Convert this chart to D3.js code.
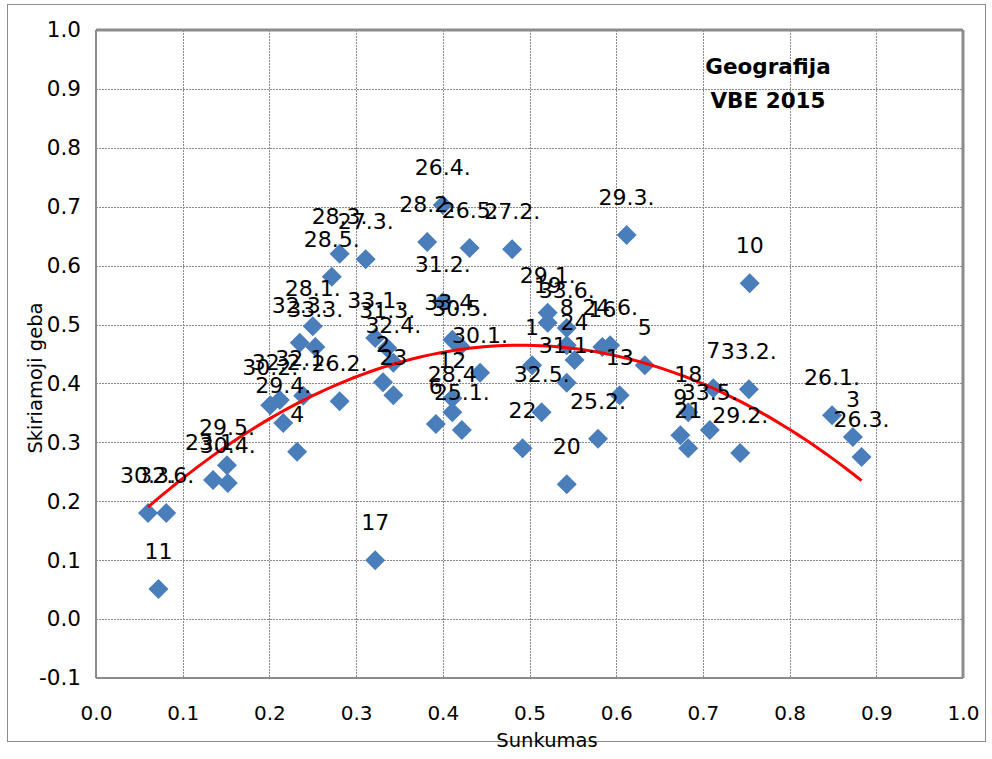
<!DOCTYPE html>
<html>
<head>
<meta charset="utf-8">
<script src="https://cdn.jsdelivr.net/npm/d3@7"></script>
<style>
  html, body { margin: 0; padding: 0; background: #fff; }
  svg { display: block; }
</style>
</head>
<body>
<svg id="chart" width="992" height="759"></svg>
<script>
// ---- data ----
const pointLabels = ["30.3.","32.6.","11","23.1.","29.5.","30.4.","30.2.","32.2.","29.4.","4",
  "32.1.","26.2.","32.3.","33.3.","28.1.","28.5.","28.3.","27.3.","33.1.","31.3.",
  "32.4.","2","23","17","28.2.","26.4.","26.5.","31.2.","33.4.","30.5.",
  "30.1.","12","28.4","6","25.1.","27.2.","29.1.","19","33.6.","8",
  "24","16","24.6.","5","1","31.1.","13","32.5.","25.2.","22",
  "20","29.3.","10","7","33.2.","18","9","21","33.5.","29.2.",
  "26.1.","3","26.3."];
const sunkumas = [0.060,0.081,0.072,0.135,0.151,0.152,0.201,0.212,0.216,0.232,
  0.239,0.281,0.235,0.253,0.250,0.272,0.281,0.311,0.322,0.336,
  0.343,0.331,0.343,0.322,0.382,0.400,0.431,0.400,0.411,0.420,
  0.443,0.411,0.411,0.392,0.422,0.480,0.521,0.521,0.543,0.543,
  0.552,0.584,0.593,0.633,0.503,0.543,0.604,0.514,0.579,0.492,
  0.543,0.612,0.754,0.712,0.753,0.683,0.674,0.683,0.708,0.743,
  0.849,0.873,0.883];
const skiriamojiGeba = [0.180,0.180,0.051,0.236,0.261,0.231,0.363,0.372,0.333,0.284,
  0.379,0.370,0.469,0.462,0.497,0.581,0.620,0.611,0.477,0.460,
  0.435,0.402,0.380,0.100,0.640,0.703,0.630,0.538,0.474,0.463,
  0.418,0.375,0.351,0.331,0.321,0.628,0.520,0.503,0.494,0.465,
  0.440,0.462,0.465,0.431,0.431,0.401,0.380,0.351,0.306,0.290,
  0.229,0.652,0.570,0.392,0.390,0.351,0.312,0.290,0.321,0.282,
  0.346,0.309,0.275];
const xTicks = [0.0,0.1,0.2,0.3,0.4,0.5,0.6,0.7,0.8,0.9,1.0];
const yTicks = [-0.1,0.0,0.1,0.2,0.3,0.4,0.5,0.6,0.7,0.8,0.9,1.0];
// polynomial (order 2) trendline coefficients: a + b*x + c*x^2
const trendCoef = [0.108, 1.457, -1.487];
const titleLines = ["Geografija", "VBE 2015"];

// ---- chart ----
const svg = d3.select("#chart");
const x = d3.scaleLinear().domain([0, 1]).range([96, 963]);
const y = d3.scaleLinear().domain([-0.1, 1]).range([678, 30]);
const fmt = d => d.toFixed(1);

// outer frame
svg.append("rect").attr("x", 7.5).attr("y", 4.5).attr("width", 978).attr("height", 737)
  .attr("fill", "#fff").attr("stroke", "#8c8c8c").attr("stroke-width", 1);

// gridlines
const grid = svg.append("g");
grid.selectAll("line.h").data(yTicks.filter(d => d > -0.1 && d < 1)).join("line")
  .attr("x1", x(0)).attr("x2", x(1)).attr("y1", d => Math.round(y(d)) + 0.5).attr("y2", d => Math.round(y(d)) + 0.5)
  .attr("stroke", "#8a8a8a").attr("stroke-width", 1).attr("stroke-dasharray", "2,1");
grid.selectAll("line.v").data(xTicks.filter(d => d > 0 && d < 1)).join("line")
  .attr("y1", y(1)).attr("y2", y(-0.1)).attr("x1", d => Math.round(x(d)) + 0.5).attr("x2", d => Math.round(x(d)) + 0.5)
  .attr("stroke", "#8a8a8a").attr("stroke-width", 1).attr("stroke-dasharray", "2,1");

// plot border
svg.append("line").attr("x1", x(0)).attr("x2", x(1)).attr("y1", y(1)).attr("y2", y(1))
  .attr("stroke", "#8c8c8c").attr("stroke-width", 3);
svg.append("line").attr("x1", x(1)).attr("x2", x(1)).attr("y1", y(1)).attr("y2", y(-0.1))
  .attr("stroke", "#8c8c8c").attr("stroke-width", 3);
svg.append("line").attr("x1", x(0)).attr("x2", x(0)).attr("y1", y(1)).attr("y2", y(-0.1))
  .attr("stroke", "#8c8c8c").attr("stroke-width", 2);
svg.append("line").attr("x1", x(0)).attr("x2", x(1)).attr("y1", y(-0.1)).attr("y2", y(-0.1))
  .attr("stroke", "#8c8c8c").attr("stroke-width", 2);

// axes tick labels
const yAxis = d3.axisLeft(y).tickValues(yTicks).tickFormat(fmt).tickSize(0).tickPadding(15);
const gy = svg.append("g").attr("transform", `translate(${x(0)},0)`).call(yAxis);
gy.select(".domain").remove();
gy.selectAll("text").attr("font-family", "DejaVu Sans").attr("font-size", 21.5).attr("fill", "#000");

const xAxis = d3.axisBottom(x).tickValues(xTicks).tickFormat(fmt).tickSize(0).tickPadding(28);
const gx = svg.append("g").attr("transform", `translate(0,${y(-0.1)})`).call(xAxis);
gx.select(".domain").remove();
gx.selectAll("text").attr("font-family", "DejaVu Sans").attr("font-size", 20).attr("fill", "#000");

// axis titles
svg.append("text").attr("x", 547).attr("y", 747).attr("text-anchor", "middle")
  .attr("font-family", "DejaVu Sans").attr("font-size", 19.5).text("Sunkumas");
svg.append("text").attr("transform", "translate(42,378) rotate(-90)").attr("text-anchor", "middle")
  .attr("font-family", "DejaVu Sans").attr("font-size", 19.5).text("Skiriamoji geba");

// points
const data = sunkumas.map((v, i) => ({ x: v, y: skiriamojiGeba[i], label: pointLabels[i] }));
const diamond = d3.symbol().type(d3.symbolSquare).size(200);
svg.append("g").selectAll("path").data(data).join("path")
  .attr("d", diamond)
  .attr("transform", d => `translate(${x(d.x)},${y(d.y)}) rotate(45)`)
  .attr("fill", "#4A7EBB");

// trendline
const xs = d3.extent(sunkumas);
const trendPts = d3.range(0, 101).map(i => {
  const xv = xs[0] + (xs[1] - xs[0]) * i / 100;
  return [xv, trendCoef[0] + trendCoef[1] * xv + trendCoef[2] * xv * xv];
});
svg.append("path").datum(trendPts)
  .attr("d", d3.line().x(d => x(d[0])).y(d => y(d[1])))
  .attr("fill", "none").attr("stroke", "#FF0000").attr("stroke-width", 3);

// data labels
svg.append("g").selectAll("text").data(data).join("text")
  .attr("x", d => x(d.x)).attr("y", d => y(d.y) - 30)
  .attr("text-anchor", "middle")
  .attr("font-family", "DejaVu Sans").attr("font-size", 22).attr("fill", "#000")
  .text(d => d.label);

// title
const t = svg.append("text").attr("text-anchor", "middle")
  .attr("font-family", "DejaVu Sans").attr("font-weight", "bold").attr("font-size", 21.5);
t.selectAll("tspan").data(titleLines).join("tspan")
  .attr("x", 768).attr("y", (d, i) => 74 + i * 34).text(d => d);
</script>
</body>
</html>
